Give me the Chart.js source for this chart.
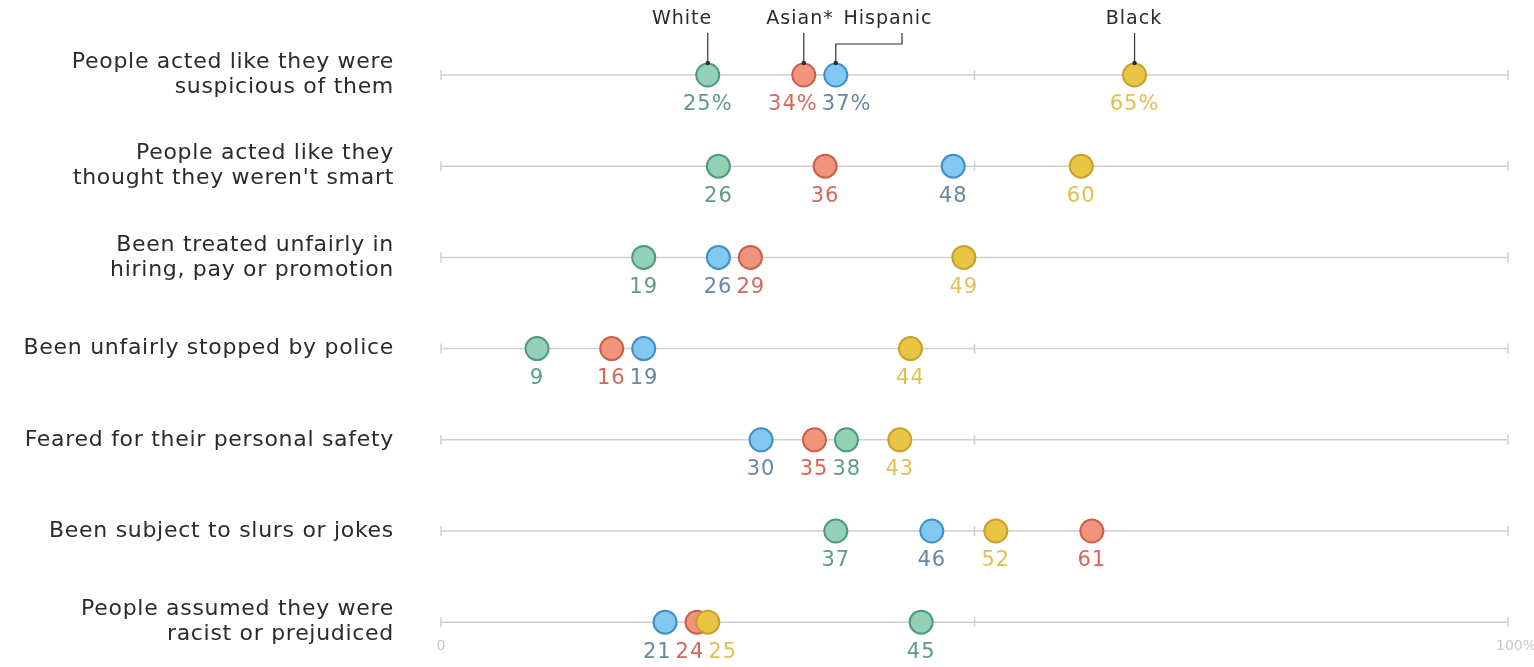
<!DOCTYPE html>
<html>
<head>
<meta charset="utf-8">
<script src="https://cdn.jsdelivr.net/npm/chart.js@4.4.0/dist/chart.umd.min.js"></script>
<style>
  html, body { margin: 0; padding: 0; background: #fff; }
  #wrap { width: 1534px; height: 667px; position: relative; }
</style>
</head>
<body>
<div id="wrap"><canvas id="chart"></canvas></div>
<script>
// categories, top to bottom
const categories = [
  ['People acted like they were', 'suspicious of them'],
  ['People acted like they', "thought they weren't smart"],
  ['Been treated unfairly in', 'hiring, pay or promotion'],
  ['Been unfairly stopped by police'],
  ['Feared for their personal safety'],
  ['Been subject to slurs or jokes'],
  ['People assumed they were', 'racist or prejudiced']
]

const seriesNames = ['White', 'Asian*', 'Hispanic', 'Black']
const whiteValues = [25, 26, 19, 9, 38, 37, 45]
const asianValues = [34, 36, 29, 16, 35, 61, 24]
const hispanicValues = [37, 48, 26, 19, 30, 46, 21]
const blackValues = [65, 60, 49, 44, 43, 52, 25]

const axisTicks = [0, 50, 100]
const axisTickLabels = ['0', '100%']

const fills = ['#93d1b7', '#f2937c', '#82c8f0', '#e9c543']
const borders = ['#4f9a7e', '#c9604d', '#3f8fc8', '#c7a12a']
const labelColors = ['#5e9c87', '#d4675a', '#67889f', '#e3bf52']
const drawOrder = [3, 4, 2, 1]

const allValues = [whiteValues, asianValues, hispanicValues, blackValues]

let dataSets = []
for (let s = 0; s < seriesNames.length; s++) {
  dataSets.push({
    label: seriesNames[s],
    data: allValues[s].map((v, i) => ({ x: v, y: i })),
    backgroundColor: fills[s],
    borderColor: borders[s],
    borderWidth: 2,
    pointRadius: 11.5,
    pointHoverRadius: 11.5,
    order: drawOrder[s]
  })
}

// grey row lines with small ticks at 0, 50, 100, plus the row labels
const rowLines = {
  id: 'rowLines',
  beforeDatasetsDraw(chart) {
    const ctx = chart.ctx
    const xs = chart.scales.x, ys = chart.scales.y
    ctx.save()
    ctx.strokeStyle = '#cfcfcf'
    ctx.lineWidth = 1.5
    for (let i = 0; i < categories.length; i++) {
      const y = ys.getPixelForValue(i)
      ctx.beginPath()
      ctx.moveTo(xs.getPixelForValue(0), y)
      ctx.lineTo(xs.getPixelForValue(100), y)
      ctx.stroke()
      for (let t of axisTicks) {
        const x = xs.getPixelForValue(t)
        ctx.beginPath()
        ctx.moveTo(x, y - 5)
        ctx.lineTo(x, y + 5)
        ctx.stroke()
      }
    }

    // row labels
    ctx.fillStyle = '#2b2b2b'
    ctx.font = '22px "DejaVu Sans"'
    ctx.letterSpacing = '0.7px'
    ctx.textAlign = 'right'
    ctx.textBaseline = 'middle'
    for (let i = 0; i < categories.length; i++) {
      const y = ys.getPixelForValue(i)
      const lines = categories[i]
      lines.forEach((line, k) => {
        const ly = y + (k - (lines.length - 1) / 2) * 25
        ctx.fillText(line, 394, ly)
      })
    }

    // axis end labels under last row
    const yb = ys.getPixelForValue(categories.length - 1) + 24
    ctx.fillStyle = '#c8c8c8'
    ctx.font = '14px "DejaVu Sans"'
    ctx.letterSpacing = '0px'
    ctx.textAlign = 'center'
    ctx.fillText(axisTickLabels[0], xs.getPixelForValue(0), yb)
    ctx.fillText(axisTickLabels[1], xs.getPixelForValue(100) + 8, yb)
    ctx.restore()
  }
}

// value labels under each dot + series name callouts on the first row
const valueLabels = {
  id: 'valueLabels',
  afterDatasetsDraw(chart) {
    const ctx = chart.ctx
    ctx.save()
    ctx.font = '21px "DejaVu Sans"'
    ctx.letterSpacing = '1px'
    ctx.textAlign = 'center'
    ctx.textBaseline = 'middle'

    for (let i = 0; i < categories.length; i++) {
      let items = []
      chart.data.datasets.forEach((ds, s) => {
        const pt = chart.getDatasetMeta(s).data[i]
        const txt = ds.data[i].x + (i === 0 ? '%' : '')
        items.push({ txt, x: pt.x, y: pt.y, w: ctx.measureText(txt).width, s })
      })
      items.sort((a, b) => a.x - b.x)
      // push overlapping labels apart
      for (let pass = 0; pass < 20; pass++) {
        for (let k = 0; k < items.length - 1; k++) {
          const a = items[k], b = items[k + 1]
          const need = (a.w + b.w) / 2 + 4
          const gap = b.x - a.x
          if (gap < need) {
            a.x -= (need - gap) / 2
            b.x += (need - gap) / 2
          }
        }
      }
      for (let it of items) {
        ctx.fillStyle = labelColors[it.s]
        ctx.fillText(it.txt, it.x, it.y + 30)
      }
    }

    // callouts
    const nameX = [682, 800, 888, 1134]
    ctx.font = '19px "DejaVu Sans"'
    ctx.letterSpacing = '1px'
    ctx.fillStyle = '#2b2b2b'
    ctx.strokeStyle = '#333'
    ctx.lineWidth = 1.2
    for (let s = 0; s < seriesNames.length; s++) {
      const pt = chart.getDatasetMeta(s).data[0]
      ctx.fillText(seriesNames[s], nameX[s], 19)
      const top = pt.y - 12
      ctx.beginPath()
      if (s === 2) {
        ctx.moveTo(nameX[s] + 14, 33)
        ctx.lineTo(nameX[s] + 14, 44)
        ctx.lineTo(pt.x, 44)
        ctx.lineTo(pt.x, top)
      } else {
        ctx.moveTo(pt.x, 33)
        ctx.lineTo(pt.x, top)
      }
      ctx.stroke()
      ctx.beginPath()
      ctx.arc(pt.x, top, 2.2, 0, Math.PI * 2)
      ctx.fill()
    }
    ctx.restore()
  }
}

new Chart(document.getElementById('chart'), {
  type: 'scatter',
  data: { datasets: dataSets },
  options: {
    responsive: true,
    maintainAspectRatio: false,
    animation: false,
    events: [],
    layout: { padding: { top: 29.4, right: 26, bottom: 22, left: 0 } },
    plugins: { legend: { display: false }, tooltip: { enabled: false } },
    scales: {
      x: {
        type: 'linear',
        min: 0,
        max: 100,
        display: false
      },
      y: {
        type: 'linear',
        reverse: true,
        min: -0.5,
        max: 6.25,
        afterFit(scale) { scale.width = 441 },
        grid: { display: false, drawTicks: false },
        border: { display: false },
        ticks: { display: false }
      }
    }
  },
  plugins: [rowLines, valueLabels]
})
</script>
</body>
</html>
